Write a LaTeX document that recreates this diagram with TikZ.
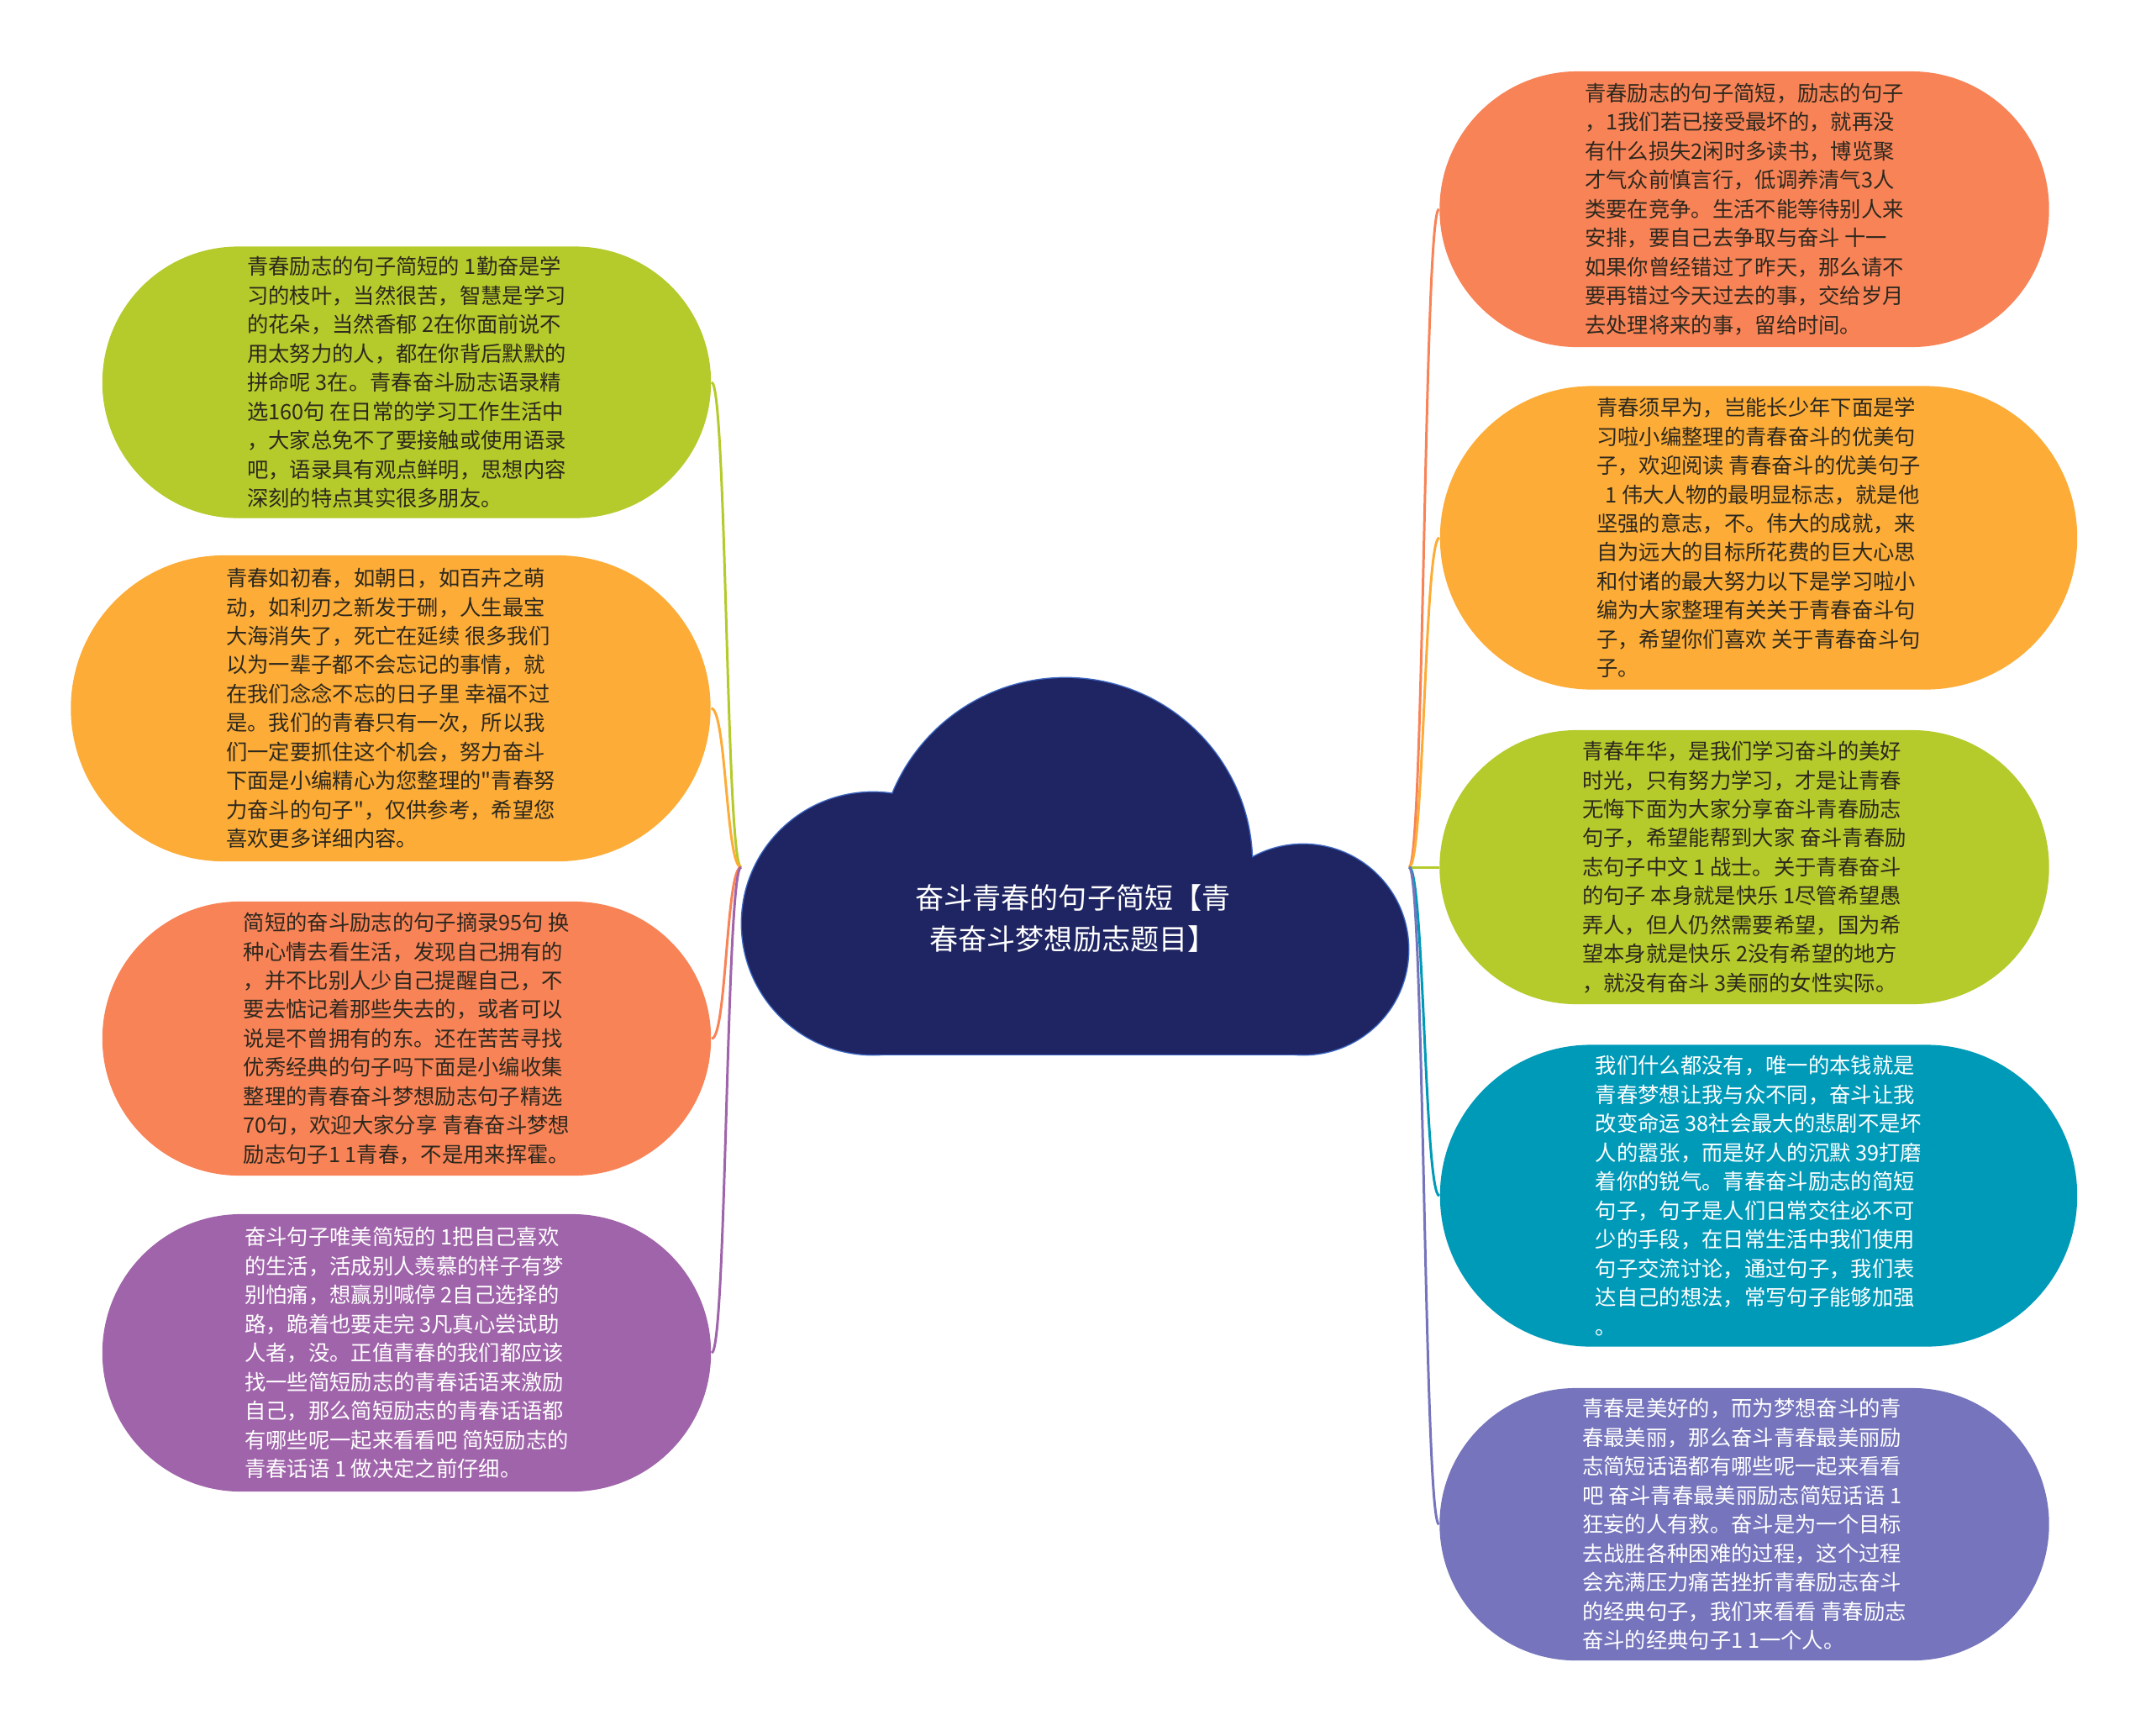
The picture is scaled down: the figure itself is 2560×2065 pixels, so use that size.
\documentclass[tikz,border=0pt]{standalone}
\usepackage{fontspec}
\newfontfamily\cjk{Noto Sans CJK SC}
\usetikzlibrary{calc}
\definecolor{cgreen}{RGB}{181,202,43}
\definecolor{corange}{RGB}{252,172,55}
\definecolor{csalmon}{RGB}{248,131,87}
\definecolor{cpurple}{RGB}{160,100,170}
\definecolor{cteal}{RGB}{0,154,185}
\definecolor{cviolet}{RGB}{117,116,188}
\definecolor{cnavy}{RGB}{31,37,98}
\definecolor{cedge}{RGB}{61,104,196}
\definecolor{cdark}{RGB}{45,40,30}

\begin{document}
\begin{tikzpicture}[x=0.01cm,y=-0.01cm,
    pill/.style n args={3}{fill=#1, minimum width=#2, minimum height=#3,
      rounded corners=#3/2, inner sep=0pt, align=left, text=cdark,
      font=\cjk\fontsize{7.2}{9.8}\selectfont},
    link/.style={draw=#1, line width=0.85pt},
    puff/.style={draw=cedge, line width=0.8pt, fill=cnavy}]
    \useasboundingbox (0,0) rectangle (2560,2065);

    % 节点的连接点
    \coordinate (cL) at (882,1032);
    \coordinate (cR) at (1677,1032);

    % 左边
    \node[pill={cgreen}{7.24cm}{3.23cm}] (L1) at (484,455) {青春励志的句子简短的 1勤奋是学\\习的枝叶，当然很苦，智慧是学习\\的花朵，当然香郁 2在你面前说不\\用太努力的人，都在你背后默默的\\拼命呢 3在。青春奋斗励志语录精\\选160句 在日常的学习工作生活中\\，大家总免不了要接触或使用语录\\吧，语录具有观点鲜明，思想内容\\深刻的特点其实很多朋友。};
    \node[pill={corange}{7.61cm}{3.64cm}] (L2) at (465,843) {青春如初春，如朝日，如百卉之萌\\动，如利刃之新发于硎，人生最宝\\大海消失了，死亡在延续 很多我们\\以为一辈子都不会忘记的事情，就\\在我们念念不忘的日子里 幸福不过\\是。我们的青春只有一次，所以我\\们一定要抓住这个机会，努力奋斗\\下面是小编精心为您整理的"青春努\\力奋斗的句子"，仅供参考，希望您\\喜欢更多详细内容。};
    \node[pill={csalmon}{7.24cm}{3.26cm}] (L3) at (484,1236) {简短的奋斗励志的句子摘录95句 换\\种心情去看生活，发现自己拥有的\\，并不比别人少自己提醒自己，不\\要去惦记着那些失去的，或者可以\\说是不曾拥有的东。还在苦苦寻找\\优秀经典的句子吗下面是小编收集\\整理的青春奋斗梦想励志句子精选\\70句，欢迎大家分享 青春奋斗梦想\\励志句子1 1青春，不是用来挥霍。};
    \node[pill={cpurple}{7.24cm}{3.30cm}, text=white] (L4) at (484,1610) {奋斗句子唯美简短的 1把自己喜欢\\的生活，活成别人羡慕的样子有梦\\别怕痛，想赢别喊停 2自己选择的\\路，跪着也要走完 3凡真心尝试助\\人者，没。正值青春的我们都应该\\找一些简短励志的青春话语来激励\\自己，那么简短励志的青春话语都\\有哪些呢一起来看看吧 简短励志的\\青春话语 1 做决定之前仔细。};

    % 右边
    \node[pill={csalmon}{7.25cm}{3.28cm}] (R1) at (2076,249) {青春励志的句子简短，励志的句子\\，1我们若已接受最坏的，就再没\\有什么损失2闲时多读书，博览聚\\才气众前慎言行，低调养清气3人\\类要在竞争。生活不能等待别人来\\安排，要自己去争取与奋斗 十一\\如果你曾经错过了昨天，那么请不\\要再错过今天过去的事，交给岁月\\去处理将来的事，留给时间。};
    \node[pill={corange}{7.58cm}{3.61cm}] (R2) at (2093,640) {青春须早为，岂能长少年下面是学\\习啦小编整理的青春奋斗的优美句\\子，欢迎阅读 青春奋斗的优美句子\\\hspace*{0.4em}1 伟大人物的最明显标志，就是他\\坚强的意志，不。伟大的成就，来\\自为远大的目标所花费的巨大心思\\和付诸的最大努力以下是学习啦小\\编为大家整理有关关于青春奋斗句\\子，希望你们喜欢 关于青春奋斗句\\子。};
    \node[pill={cgreen}{7.25cm}{3.26cm}] (R3) at (2076,1032) {青春年华，是我们学习奋斗的美好\\时光，只有努力学习，才是让青春\\无悔下面为大家分享奋斗青春励志\\句子，希望能帮到大家 奋斗青春励\\志句子中文 1 战士。关于青春奋斗\\的句子 本身就是快乐 1尽管希望愚\\弄人，但人仍然需要希望，国为希\\望本身就是快乐 2没有希望的地方\\，就没有奋斗 3美丽的女性实际。};
    \node[pill={cteal}{7.58cm}{3.59cm}, text=white] (R4) at (2093,1423) {我们什么都没有，唯一的本钱就是\\青春梦想让我与众不同，奋斗让我\\改变命运 38社会最大的悲剧不是坏\\人的嚣张，而是好人的沉默 39打磨\\着你的锐气。青春奋斗励志的简短\\句子，句子是人们日常交往必不可\\少的手段，在日常生活中我们使用\\句子交流讨论，通过句子，我们表\\达自己的想法，常写句子能够加强\\。};
    \node[pill={cviolet}{7.25cm}{3.24cm}, text=white] (R5) at (2076,1814) {青春是美好的，而为梦想奋斗的青\\春最美丽，那么奋斗青春最美丽励\\志简短话语都有哪些呢一起来看看\\吧 奋斗青春最美丽励志简短话语 1\\狂妄的人有救。奋斗是为一个目标\\去战胜各种困难的过程，这个过程\\会充满压力痛苦挫折青春励志奋斗\\的经典句子，我们来看看 青春励志\\奋斗的经典句子1 1一个人。};

    % 连线
    \draw[link=cgreen] (cL) .. controls +(-18,0) and +(18,0) .. (L1.east);
    \draw[link=corange] (cL) .. controls +(-18,0) and +(18,0) .. (L2.east);
    \draw[link=csalmon] (cL) .. controls +(-18,0) and +(18,0) .. (L3.east);
    \draw[link=cpurple] (cL) .. controls +(-18,0) and +(18,0) .. (L4.east);
    \draw[link=csalmon] (cR) .. controls +(18,0) and +(-18,0) .. (R1.west);
    \draw[link=corange] (cR) .. controls +(18,0) and +(-18,0) .. (R2.west);
    \draw[link=cgreen] (cR) -- (R3.west);
    \draw[link=cteal] (cR) .. controls +(18,0) and +(-18,0) .. (R4.west);
    \draw[link=cviolet] (cR) .. controls +(18,0) and +(-18,0) .. (R5.west);

    % 云
    \draw[puff] (1039,1099) circle[radius=156];
    \draw[puff] (1268,1028) ellipse[x radius=222, y radius=221];
    \draw[puff] (1551,1130) circle[radius=125];
    \draw[puff] (1039,1040) rectangle (1551,1255);
    \fill[cnavy] (1039,1099) circle[radius=156];
    \fill[cnavy] (1268,1028) ellipse[x radius=222, y radius=221];
    \fill[cnavy] (1551,1130) circle[radius=125];
    \fill[cnavy] (1039,1040) rectangle (1551,1255);

    \node[align=center, text=white, font=\cjk\fontsize{9.7}{14.2}\selectfont] (T) at (1277,1093) {奋斗青春的句子简短【青\\春奋斗梦想励志题目】};
\end{tikzpicture}
\end{document}
